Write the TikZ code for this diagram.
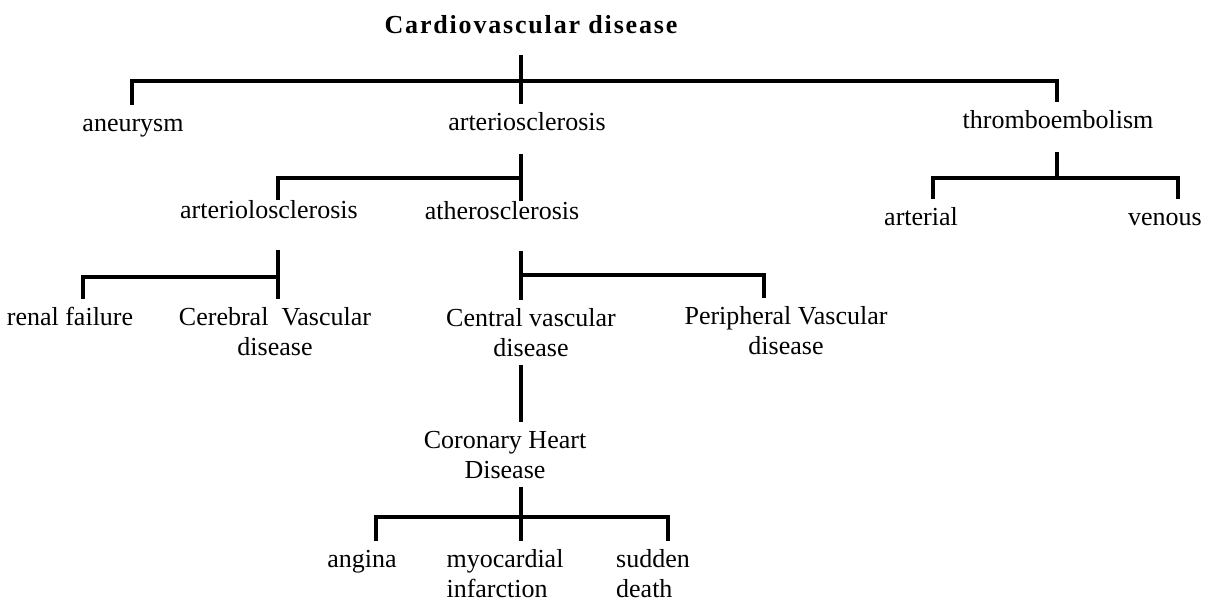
\documentclass[tikz,border=0pt]{standalone}
\usepackage{fontspec}
\setmainfont{Liberation Serif}
\newfontfamily\headfont{Liberation Serif}[LetterSpace=7]
\usepackage{tikz}
\usetikzlibrary{calc}
\tikzset{
  term/.style={font=\fontsize{13}{15}\selectfont, inner xsep=0pt, inner ysep=4pt, anchor=base, align=center},
  oneline/.style={term, text height=9pt, text depth=3pt},
  upperterm/.style={oneline, text depth=8pt},
  midterm/.style={oneline, text height=5pt, text depth=12pt},
  headbox/.style={oneline, font=\headfont\bfseries\fontsize{13}{15}\selectfont, inner ysep=8pt},
  link/.style={line width=1.6pt},
}

\begin{document}
\begin{tikzpicture}[x=0.5pt, y=-0.5pt]
  \useasboundingbox (0,0) rectangle (1214,605);

  % Terms (two-line terms sit on their last baseline)
  \node[headbox] (cvd) at (531,33) {Cardiovascular disease};
  \node[oneline] (aneu) at (133,131) {aneurysm};
  \node[upperterm] (art) at (527,130) {arteriosclerosis};
  \node[upperterm] (thromb) at (1058,128) {thromboembolism};
  \node[midterm] (arlo) at (269,218) {arteriolosclerosis};
  \node[midterm] (ather) at (502,219) {atherosclerosis};
  \node[oneline] (arterial) at (921,225) {arterial};
  \node[oneline] (venous) at (1165,225) {venous};
  \node[oneline] (renal) at (70,325) {renal failure};
  \node[term] (cereb) at (275,355) {Cerebral\ \ Vascular\\disease};
  \node[term] (central) at (531,356) {Central vascular\\disease};
  \node[term] (periph) at (786,354) {Peripheral Vascular\\disease};
  \node[term] (chd) at (505,478) {Coronary Heart\\Disease};
  \node[oneline] (angina) at (362,567) {angina};
  \node[term, align=left] (myo) at (505,597) {myocardial\\infarction};
  \node[term, align=left] (sudden) at (653,597) {sudden\\death};

  % Junctions
  \coordinate (j0) at (521,81);
  \coordinate (j0l) at (132,81);
  \coordinate (j0r) at (1057,81);
  \coordinate (j1) at (521,178);
  \coordinate (j1l) at (278,178);
  \coordinate (j2) at (1057,178);
  \coordinate (j2l) at (933,178);
  \coordinate (j2r) at (1178,178);
  \coordinate (j3) at (278,277);
  \coordinate (j3l) at (83,277);
  \coordinate (j4) at (521,275);
  \coordinate (j4r) at (764,275);
  \coordinate (j5) at (521,517);
  \coordinate (j5l) at (376,517);
  \coordinate (j5r) at (668,517);

  % Brackets
  \draw[link] (cvd.south -| j0) -- (art.north -| j0);
  \draw[link] (aneu.north -| j0l) -- (j0l) -- (j0r) -- (thromb.north -| j0r);

  \draw[link] (art.south -| j1) -- (ather.north -| j1);
  \draw[link] (arlo.north -| j1l) -- (j1l) -- (j1);

  \draw[link] (thromb.south -| j2) -- (j2);
  \draw[link] (arterial.north -| j2l) -- (j2l) -- (j2r) -- (venous.north -| j2r);

  \draw[link] (arlo.south -| j3) -- (cereb.north -| j3);
  \draw[link] (renal.north -| j3l) -- (j3l) -- (j3);

  \draw[link] (ather.south -| j4) -- (central.north -| j4);
  \draw[link] (j4) -- (j4r) -- (periph.north -| j4r);

  \draw[link] (central.south -| j4) -- (chd.north -| j4);

  \draw[link] (chd.south -| j5) -- (myo.north -| j5);
  \draw[link] (angina.north -| j5l) -- (j5l) -- (j5r) -- (sudden.north -| j5r);
\end{tikzpicture}
\end{document}
